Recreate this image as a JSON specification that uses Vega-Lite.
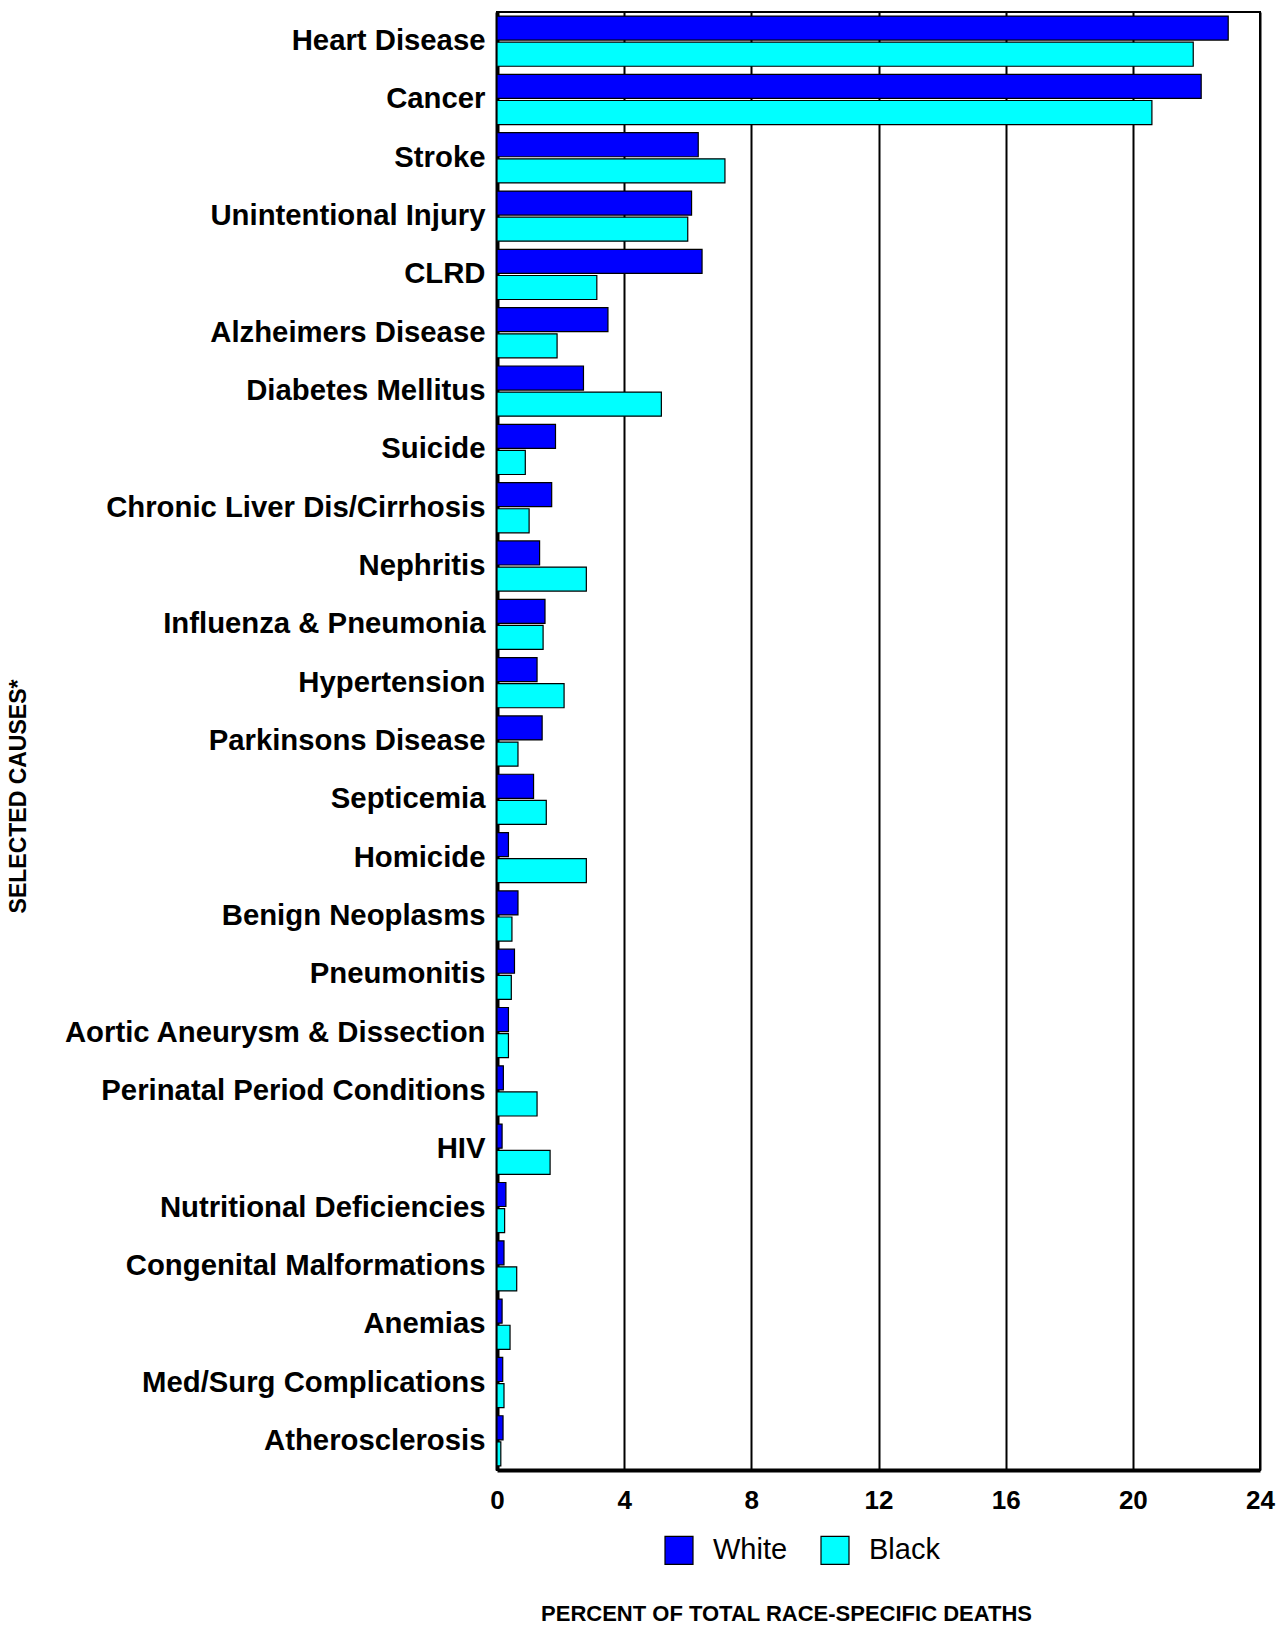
{
  "$schema": "https://vega.github.io/schema/vega-lite/v6.json",
  "autosize": {"type": "none"},
  "width": 763,
  "height": 1458,
  "padding": {"left": 497, "top": 12, "right": 21, "bottom": 162},
  "background": "white",
  "config": {
    "view": {"stroke": "black", "strokeWidth": 2},
    "font": "Liberation Sans"
  },
  "data": {
    "values": [
      {"cause": "Heart Disease", "race": "White", "pct": 23.0},
      {"cause": "Heart Disease", "race": "Black", "pct": 21.9},
      {"cause": "Cancer", "race": "White", "pct": 22.15},
      {"cause": "Cancer", "race": "Black", "pct": 20.6},
      {"cause": "Stroke", "race": "White", "pct": 6.33},
      {"cause": "Stroke", "race": "Black", "pct": 7.17},
      {"cause": "Unintentional Injury", "race": "White", "pct": 6.12},
      {"cause": "Unintentional Injury", "race": "Black", "pct": 6.0},
      {"cause": "CLRD", "race": "White", "pct": 6.45},
      {"cause": "CLRD", "race": "Black", "pct": 3.14},
      {"cause": "Alzheimers Disease", "race": "White", "pct": 3.49},
      {"cause": "Alzheimers Disease", "race": "Black", "pct": 1.89},
      {"cause": "Diabetes Mellitus", "race": "White", "pct": 2.72},
      {"cause": "Diabetes Mellitus", "race": "Black", "pct": 5.17},
      {"cause": "Suicide", "race": "White", "pct": 1.84},
      {"cause": "Suicide", "race": "Black", "pct": 0.89},
      {"cause": "Chronic Liver Dis/Cirrhosis", "race": "White", "pct": 1.72},
      {"cause": "Chronic Liver Dis/Cirrhosis", "race": "Black", "pct": 1.01},
      {"cause": "Nephritis", "race": "White", "pct": 1.34},
      {"cause": "Nephritis", "race": "Black", "pct": 2.81},
      {"cause": "Influenza & Pneumonia", "race": "White", "pct": 1.51},
      {"cause": "Influenza & Pneumonia", "race": "Black", "pct": 1.45},
      {"cause": "Hypertension", "race": "White", "pct": 1.26},
      {"cause": "Hypertension", "race": "Black", "pct": 2.11},
      {"cause": "Parkinsons Disease", "race": "White", "pct": 1.42},
      {"cause": "Parkinsons Disease", "race": "Black", "pct": 0.66},
      {"cause": "Septicemia", "race": "White", "pct": 1.15},
      {"cause": "Septicemia", "race": "Black", "pct": 1.55},
      {"cause": "Homicide", "race": "White", "pct": 0.36},
      {"cause": "Homicide", "race": "Black", "pct": 2.81},
      {"cause": "Benign Neoplasms", "race": "White", "pct": 0.66},
      {"cause": "Benign Neoplasms", "race": "Black", "pct": 0.47},
      {"cause": "Pneumonitis", "race": "White", "pct": 0.55},
      {"cause": "Pneumonitis", "race": "Black", "pct": 0.45},
      {"cause": "Aortic Aneurysm & Dissection", "race": "White", "pct": 0.36},
      {"cause": "Aortic Aneurysm & Dissection", "race": "Black", "pct": 0.36},
      {"cause": "Perinatal Period Conditions", "race": "White", "pct": 0.2},
      {"cause": "Perinatal Period Conditions", "race": "Black", "pct": 1.26},
      {"cause": "HIV", "race": "White", "pct": 0.16},
      {"cause": "HIV", "race": "Black", "pct": 1.67},
      {"cause": "Nutritional Deficiencies", "race": "White", "pct": 0.28},
      {"cause": "Nutritional Deficiencies", "race": "Black", "pct": 0.24},
      {"cause": "Congenital Malformations", "race": "White", "pct": 0.22},
      {"cause": "Congenital Malformations", "race": "Black", "pct": 0.62},
      {"cause": "Anemias", "race": "White", "pct": 0.16},
      {"cause": "Anemias", "race": "Black", "pct": 0.41},
      {"cause": "Med/Surg Complications", "race": "White", "pct": 0.18},
      {"cause": "Med/Surg Complications", "race": "Black", "pct": 0.22},
      {"cause": "Atherosclerosis", "race": "White", "pct": 0.19},
      {"cause": "Atherosclerosis", "race": "Black", "pct": 0.12}
    ]
  },
  "mark": {"type": "bar", "stroke": "black", "strokeWidth": 1.2, "opacity": 1},
  "encoding": {
    "y": {
      "field": "cause",
      "type": "nominal",
      "sort": null,
      "scale": {"paddingInner": 0.14, "paddingOuter": 0.07},
      "axis": {
        "title": "SELECTED CAUSES*",
        "titleFont": "Liberation Sans",
        "titleFontSize": 23,
        "titleFontWeight": "bold",
        "titleColor": "black",
        "titleAngle": -90,
        "titleAlign": "center",
        "titleBaseline": "middle",
        "titleX": -479,
        "titleY": 784,
        "labelFont": "Liberation Sans",
        "labelFontSize": 29.3,
        "labelFontWeight": "bold",
        "labelColor": "black",
        "labelLimit": 0,
        "labelPadding": 12,
        "ticks": false,
        "domainColor": "black",
        "domainWidth": 4
      }
    },
    "yOffset": {
      "field": "race",
      "type": "nominal",
      "sort": ["White", "Black"],
      "scale": {"paddingInner": 0.08, "paddingOuter": 0}
    },
    "x": {
      "field": "pct",
      "type": "quantitative",
      "scale": {"domain": [0, 24], "nice": false, "zero": true},
      "axis": {
        "title": "PERCENT OF TOTAL RACE-SPECIFIC DEATHS",
        "titleFont": "Liberation Sans",
        "titleFontSize": 22,
        "titleFontWeight": "bold",
        "titleColor": "black",
        "titleAlign": "center",
        "titleBaseline": "middle",
        "titleX": 289,
        "titleY": 143,
        "values": [0, 4, 8, 12, 16, 20, 24],
        "labelFont": "Liberation Sans",
        "labelFontSize": 26,
        "labelFontWeight": "bold",
        "labelColor": "black",
        "labelPadding": 17,
        "labelFlush": false,
        "ticks": false,
        "grid": true,
        "gridColor": "black",
        "gridWidth": 2,
        "gridOpacity": 1,
        "domainColor": "black",
        "domainWidth": 4
      }
    },
    "color": {
      "field": "race",
      "type": "nominal",
      "sort": ["White", "Black"],
      "scale": {"domain": ["White", "Black"], "range": ["#0000FF", "#00FFFF"]},
      "legend": {
        "title": null,
        "orient": "none",
        "direction": "horizontal",
        "legendX": 167,
        "legendY": 1523,
        "symbolType": "square",
        "symbolSize": 784,
        "symbolStrokeColor": "black",
        "symbolStrokeWidth": 1.2,
        "symbolOpacity": 1,
        "labelFont": "Liberation Sans",
        "labelFontSize": 29,
        "labelColor": "black",
        "labelOffset": 19,
        "columnPadding": 30,
        "labelLimit": 0
      }
    }
  }
}
